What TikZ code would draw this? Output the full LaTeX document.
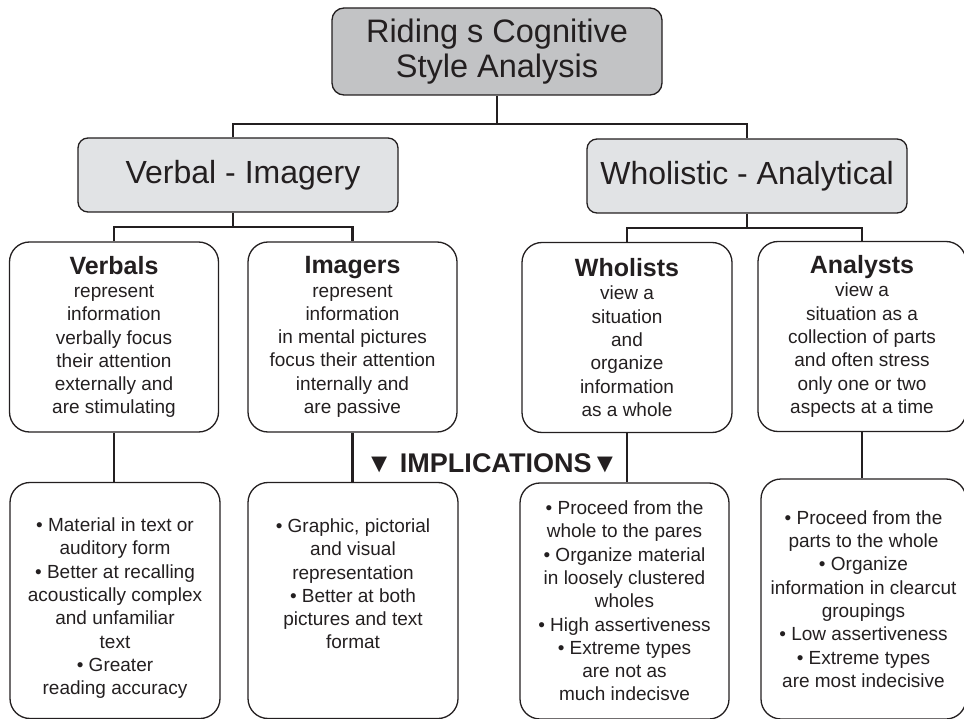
\documentclass[tikz,border=0pt]{standalone}
\usepackage{fontspec}
\setmainfont{Liberation Sans}
\usepackage{tikz}
\usetikzlibrary{calc}

\definecolor{ink}{RGB}{35,31,32}
\definecolor{darkfill}{RGB}{194,195,197}
\definecolor{lightfill}{RGB}{225,227,229}

\tikzset{
  topbox/.style={draw=ink,line width=1.3pt,rounded corners=12pt,fill=darkfill,
    minimum width=330pt,minimum height=87pt,align=center,text=ink,
    font=\fontsize{32.5}{35}\selectfont},
  typebox/.style={draw=ink,line width=1.3pt,rounded corners=10pt,fill=lightfill,
    minimum width=320pt,minimum height=74pt,align=center,text=ink,
    font=\fontsize{32}{35}\selectfont},
  groupbox/.style={draw=ink,line width=1.3pt,rounded corners=20pt,
    minimum width=209pt,minimum height=190pt,align=center,text=ink,inner sep=2pt,
    font=\fontsize{19}{23.3}\selectfont},
  implbox/.style={groupbox,minimum height=236pt},
  conn/.style={draw=ink,line width=2.2pt},
  head/.style={font=\fontsize{25}{24}\selectfont\bfseries}
}

\begin{document}
\begin{tikzpicture}[x=1pt,y=-1pt]
\useasboundingbox (0,0) rectangle (964,719);
% top of the tree
\node (top) at (497,51.5) [topbox] {Riding s Cognitive\\Style Analysis};
\node (verbal) at (238,175) [typebox] {\hspace*{10pt}Verbal - Imagery};
\node (wholistic) at (747,176) [typebox] {Wholistic - Analytical};
% the four styles
\node (verbals) at (114,337) [groupbox] {{\fontsize{25}{24}\selectfont\bfseries Verbals}\\represent\\information\\verbally focus\\their attention\\externally and\\are stimulating};
\node (imagers) at (352.5,337) [groupbox] {{\fontsize{25}{24}\selectfont\bfseries Imagers}\\represent\\information\\in mental pictures\\focus their attention\\internally and\\are passive};
\node (wholists) at (627,337.5) [groupbox,minimum width=210pt] {{\fontsize{25}{24}\selectfont\bfseries Wholists}\\view a\\situation\\and\\organize\\information\\as a whole};
\node (analysts) at (862,336.5) [groupbox,minimum width=208pt] {{\fontsize{25}{24}\selectfont\bfseries Analysts}\\view a\\situation as a\\collection of parts\\and often stress\\only one or two\\aspects at a time};
% implications
\node (impl) at (492,463) [text=ink,font=\fontsize{27}{30}\selectfont\bfseries] {▼ IMPLICATIONS▼};
\node (implA) at (115,600.5) [implbox,minimum width=210pt] {\\[6pt]• Material in text or\\auditory form\\• Better at recalling\\acoustically complex\\and unfamiliar\\text\\• Greater\\reading accuracy};
\node (implB) at (353,600.5) [implbox,minimum width=210pt] {• Graphic, pictorial\\and visual\\representation\\• Better at both\\pictures and text\\format\\[10pt]};
\node (implC) at (624.5,601) [implbox] {• Proceed from the\\whole to the pares\\• Organize material\\in loosely clustered\\wholes\\• High assertiveness\\• Extreme types\\are not as\\much indecisve};
\node (implD) at (863.5,599) [implbox,minimum width=205pt,minimum height=240pt] {• Proceed from the\\parts to the whole\\• Organize\\information in clearcut\\groupings\\• Low assertiveness\\• Extreme types\\are most indecisive};
% connectors
\coordinate (busA) at (497,124);
\coordinate (busB) at (233,227);
\coordinate (busC) at (747,228);
\draw[conn] (top.south) -- (busA);
\draw[conn] (verbal.north -| busB) |- (busA) -| (wholistic.north);
\draw[conn] (verbal.south -| busB) -- (busB);
\draw[conn] (verbals.north) |- (busB) -| (imagers.north);
\draw[conn] (wholistic.south) -- (busC);
\draw[conn] (wholists.north) |- (busC) -| (analysts.north);
\draw[conn] (verbals.south) -- (verbals.south |- implA.north);
\draw[conn] (imagers.south) -- (imagers.south |- implB.north);
\draw[conn] (wholists.south) -- (wholists.south |- implC.north);
\draw[conn] (analysts.south) -- (analysts.south |- implD.north);
\end{tikzpicture}
\end{document}
